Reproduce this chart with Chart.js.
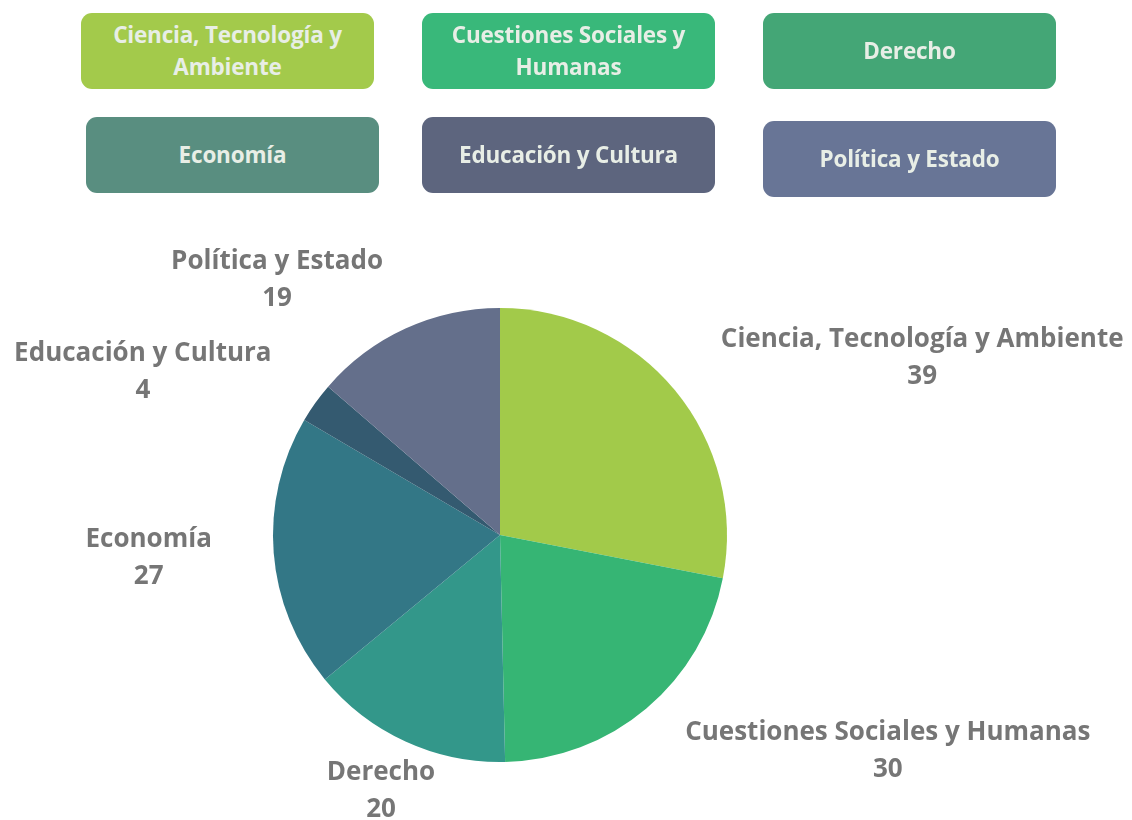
<!DOCTYPE html>
<html>
<head>
<meta charset="utf-8">
<script src="https://cdn.jsdelivr.net/npm/chart.js@4.4.1/dist/chart.umd.min.js"></script>
<style>
  html, body { margin: 0; padding: 0; background: #ffffff; }
  #wrap { position: relative; width: 1132px; height: 820px; overflow: hidden; }
  #chart { position: absolute; left: 0; top: 0; }
  .lg {
    position: absolute; width: 293px; height: 76px; border-radius: 11px;
    display: flex; align-items: center; justify-content: center; text-align: center;
    font-family: "Open Sans", sans-serif; font-weight: 700; font-size: 22.5px; line-height: 32px;
    color: #e8eee6; box-sizing: border-box; padding: 0 10px; letter-spacing: -0.2px;
  }
</style>
</head>
<body>
<div id="wrap">
  <canvas id="chart" width="1132" height="820"></canvas>
</div>
<script>
// ---- data ----
const categories = [
  "Ciencia, Tecnología y Ambiente",
  "Cuestiones Sociales y Humanas",
  "Derecho",
  "Economía",
  "Educación y Cultura",
  "Política y Estado"
];
const values = [39, 30, 20, 27, 4, 19];
const sliceColors = ["#a2ca4a", "#36b574", "#33978a", "#337786", "#345a70", "#646f8b"];
const legendColors = ["#a3ca4b", "#39b87a", "#44a676", "#598e80", "#5d657e", "#687596"];

// ---- layout (style only) ----
const legendPos = [[81, 13], [422, 13], [763, 13], [86, 117], [422, 117], [763, 121]];
const legendLines = [["Ciencia, Tecnología y", "Ambiente"], ["Cuestiones Sociales y", "Humanas"], null, null, null, null];
const labelAlign = ["left", "left", "center", "right", "right", "right"];
const labelNudge = [[4, 2], [4, 1], [-2, 1], [-8, 1], [0, 1], [0, 1]];

// legend boxes (HTML)
const wrap = document.getElementById('wrap');
categories.forEach((c, i) => {
  const d = document.createElement('div');
  d.className = 'lg';
  d.style.left = legendPos[i][0] + 'px';
  d.style.top = legendPos[i][1] + 'px';
  d.style.background = legendColors[i];
  if (legendLines[i]) {
    const s = document.createElement('span');
    legendLines[i].forEach((ln, k) => {
      if (k) s.appendChild(document.createElement('br'));
      s.appendChild(document.createTextNode(ln));
    });
    d.appendChild(s);
  } else {
    d.textContent = c;
  }
  wrap.appendChild(d);
});

const labelFont = 'bold 26px "Open Sans", sans-serif';
const outsideLabels = {
  id: 'outsideLabels',
  afterDatasetsDraw(chart) {
    const ctx = chart.ctx;
    const meta = chart.getDatasetMeta(0);
    ctx.save();
    ctx.font = labelFont;
    ctx.fillStyle = '#767676';
    ctx.textBaseline = 'middle';
    ctx.textAlign = 'center';
    meta.data.forEach((arc, i) => {
      const p = arc.getProps(['x', 'y', 'startAngle', 'endAngle', 'outerRadius'], true);
      const a = (p.startAngle + p.endAngle) / 2;
      const rho = p.outerRadius + 54;
      const ax = p.x + rho * Math.cos(a) + labelNudge[i][0];
      const ay = p.y + rho * Math.sin(a) + labelNudge[i][1];
      const name = categories[i];
      const val = String(values[i]);
      const w = Math.max(ctx.measureText(name).width, ctx.measureText(val).width);
      let cx = ax;
      if (labelAlign[i] === 'left') cx = ax + w / 2;
      else if (labelAlign[i] === 'right') cx = ax - w / 2;
      ctx.fillText(name, cx, ay - 18.5);
      ctx.fillText(val, cx, ay + 18.5);
    });
    ctx.restore();
  }
};

new Chart(document.getElementById('chart'), {
  type: 'pie',
  data: {
    labels: categories,
    datasets: [{
      data: values,
      backgroundColor: sliceColors,
      borderWidth: 0
    }]
  },
  options: {
    responsive: false,
    animation: false,
    layout: { padding: { top: 308, bottom: 58, left: 273, right: 405 } },
    plugins: {
      legend: { display: false },
      tooltip: { enabled: false }
    }
  },
  plugins: [outsideLabels]
});
</script>
</body>
</html>
